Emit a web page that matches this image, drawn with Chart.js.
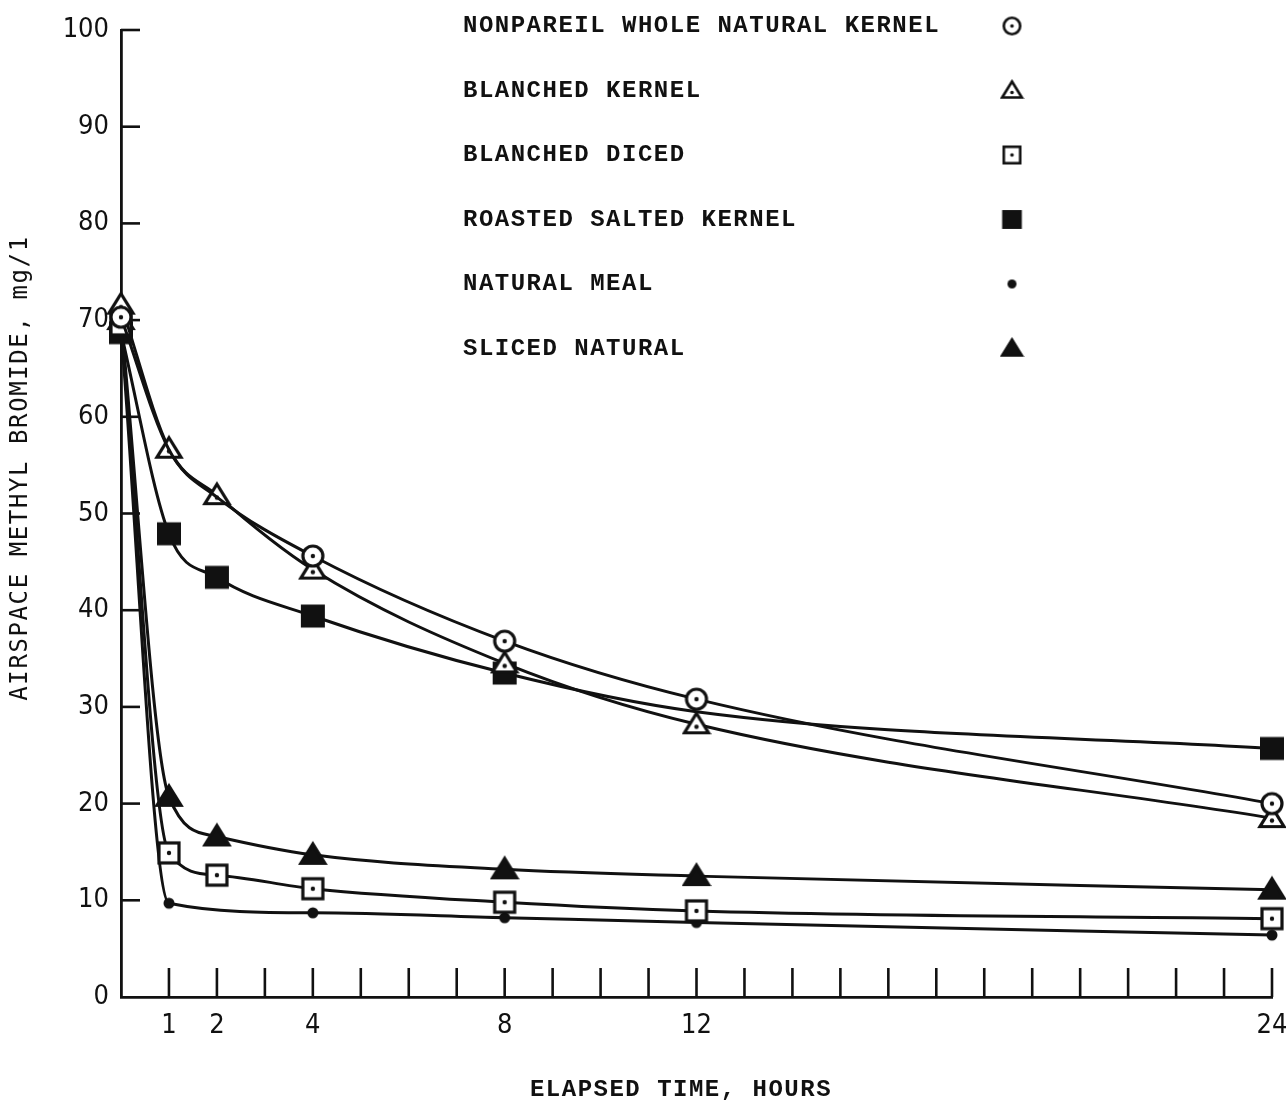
<!DOCTYPE html>
<html>
<head>
<meta charset="utf-8">
<script src="https://cdn.jsdelivr.net/npm/chart.js@4"></script>
<style>
  body { margin: 0; background: #fff; }
  canvas { display: block; }
</style>
</head>
<body>
<canvas id="chart" width="1286" height="1105"></canvas>
<script>
const hours = [0, 1, 2, 4, 8, 12, 24];
const tickLabels = [1, 2, 4, 8, 12, 24];

const seriesNames = [
  'NONPAREIL WHOLE NATURAL KERNEL',
  'BLANCHED KERNEL',
  'BLANCHED DICED',
  'ROASTED SALTED KERNEL',
  'NATURAL MEAL',
  'SLICED NATURAL'
];

// mg/l; nulls are hours with no reading
const nonpareil = [70.3, 56.6, 51.7, 45.6, 36.8, 30.8, 20.0];
const blanchedKernel = [71.6, 56.7, 51.9, 44.2, 34.5, 28.2, 18.5];
const blanchedDiced = [69.5, 14.9, 12.6, 11.2, 9.8, 8.9, 8.1];
const roastedSalted = [68.7, 47.9, 43.4, 39.4, 33.5, 29.5, 25.7];
const naturalMeal = [69.0, 9.7, null, 8.7, 8.2, 7.7, 6.4];
const slicedNatural = [70.0, 20.7, 16.6, 14.7, 13.2, 12.5, 11.1];

// points that lie on the curve but carry no marker in the original
const hiddenMarks = {
  0: [1, 2],
  3: [5]
};

const INK = '#111';

function makeMarker(kind, s) {
  const c = document.createElement('canvas');
  const size = Math.ceil(30 * s);
  c.width = size; c.height = size;
  const g = c.getContext('2d');
  const m = size / 2;
  g.strokeStyle = INK;
  g.fillStyle = INK;
  g.lineWidth = 3.2 * s;
  const dot = (dy) => { g.beginPath(); g.arc(m, m + dy, 2.2 * s, 0, Math.PI * 2); g.fill(); };
  if (kind === 'ocircle') {
    g.fillStyle = '#fff';
    g.beginPath(); g.arc(m, m, 10 * s, 0, Math.PI * 2); g.fill(); g.stroke();
    g.fillStyle = INK; dot(0);
  } else if (kind === 'otri' || kind === 'ftri') {
    g.beginPath();
    g.moveTo(m, m - 11 * s);
    g.lineTo(m + 12 * s, m + 8.5 * s);
    g.lineTo(m - 12 * s, m + 8.5 * s);
    g.closePath();
    if (kind === 'otri') { g.fillStyle = '#fff'; g.fill(); g.stroke(); g.fillStyle = INK; dot(2.5 * s); }
    else { g.fill(); g.stroke(); }
  } else if (kind === 'osquare') {
    g.fillStyle = '#fff';
    g.fillRect(m - 10 * s, m - 10 * s, 20 * s, 20 * s);
    g.strokeRect(m - 10 * s, m - 10 * s, 20 * s, 20 * s);
    g.fillStyle = INK; dot(0);
  } else if (kind === 'fsquare') {
    g.fillRect(m - 12 * s, m - 11.5 * s, 24 * s, 23 * s);
  } else if (kind === 'dot') {
    g.beginPath(); g.arc(m, m, 5.5 * s, 0, Math.PI * 2); g.fill();
  }
  return c;
}

const markerKinds = ['ocircle', 'otri', 'osquare', 'fsquare', 'dot', 'ftri'];
const plotMarkers = markerKinds.map(k => makeMarker(k, 1));
const legendMarkers = markerKinds.map(k => makeMarker(k, 0.82));

const allSeries = [nonpareil, blanchedKernel, blanchedDiced, roastedSalted, naturalMeal, slicedNatural];

const datasets = allSeries.map((vals, i) => ({
  label: seriesNames[i],
  data: hours.map((h, j) => ({ x: h, y: vals[j] })),
  borderColor: INK,
  borderWidth: 3,
  pointStyle: plotMarkers[i],
  pointRadius: hours.map((h, j) => (hiddenMarks[i] && hiddenMarks[i].includes(j)) ? 0 : 11),
  cubicInterpolationMode: 'monotone',
  spanGaps: true,
  clip: false
}));

const paperPlugin = {
  id: 'paper',
  beforeDatasetsDraw(chart) {
    const { ctx, scales: { x, y } } = chart;
    ctx.save();
    ctx.strokeStyle = INK;
    ctx.lineWidth = 2.6;
    const base = y.getPixelForValue(0);
    for (let h = 1; h <= 24; h++) {
      const px = x.getPixelForValue(h);
      ctx.beginPath();
      ctx.moveTo(px, base);
      ctx.lineTo(px, base - 29);
      ctx.stroke();
    }
    for (let v = 10; v <= 100; v += 10) {
      const py = y.getPixelForValue(v);
      ctx.beginPath();
      ctx.moveTo(x.getPixelForValue(0), py);
      ctx.lineTo(x.getPixelForValue(0) + 19, py);
      ctx.stroke();
    }
    ctx.restore();
  },
  afterDraw(chart) {
    const { ctx } = chart;
    ctx.save();
    ctx.fillStyle = INK;
    ctx.textBaseline = 'middle';
    ctx.font = 'bold 24px "Liberation Mono", "DejaVu Sans Mono", monospace';
    ctx.letterSpacing = '1.5px';
    seriesNames.forEach((name, i) => {
      const ty = 26 + i * 64.5;
      ctx.textAlign = 'left';
      ctx.fillText(name, 463, ty);
      const mk = legendMarkers[i];
      ctx.drawImage(mk, 1012 - mk.width / 2, ty - mk.height / 2);
    });
    ctx.textAlign = 'center';
    ctx.fillText('ELAPSED TIME, HOURS', 681, 1090);

    ctx.font = '24px "DejaVu Sans Mono", monospace';
    ctx.letterSpacing = '1.6px';
    ctx.translate(21, 468);
    ctx.rotate(-Math.PI / 2);
    ctx.fillText('AIRSPACE METHYL BROMIDE, mg/1', 0, 0);
    ctx.restore();
  }
};

const tickFont = { family: '"DejaVu Sans Condensed", "Liberation Sans Narrow", "DejaVu Sans", sans-serif', size: 27 };

new Chart(document.getElementById('chart').getContext('2d'), {
  type: 'line',
  data: { datasets },
  options: {
    responsive: false,
    animation: false,
    layout: { padding: { top: 30, right: 0, left: 0, bottom: 0 } },
    plugins: { legend: { display: false }, tooltip: { enabled: false } },
    scales: {
      x: {
        type: 'linear',
        min: 0,
        max: 24,
        grid: { display: false, drawTicks: false },
        border: { display: true, color: INK, width: 2.8 },
        ticks: {
          stepSize: 1,
          autoSkip: false,
          maxRotation: 0,
          padding: 13,
          color: INK,
          font: tickFont,
          callback: v => tickLabels.includes(v) ? String(v) : ''
        },
        afterFit: s => { s.height = 108; s.paddingRight = 14; s.paddingLeft = 0; }
      },
      y: {
        min: 0,
        max: 100,
        grid: { display: false, drawTicks: false },
        border: { display: true, color: INK, width: 2.8 },
        ticks: {
          stepSize: 10,
          padding: 12,
          color: INK,
          font: tickFont
        },
        afterFit: s => { s.width = 121; }
      }
    }
  },
  plugins: [paperPlugin]
});
</script>
</body>
</html>
